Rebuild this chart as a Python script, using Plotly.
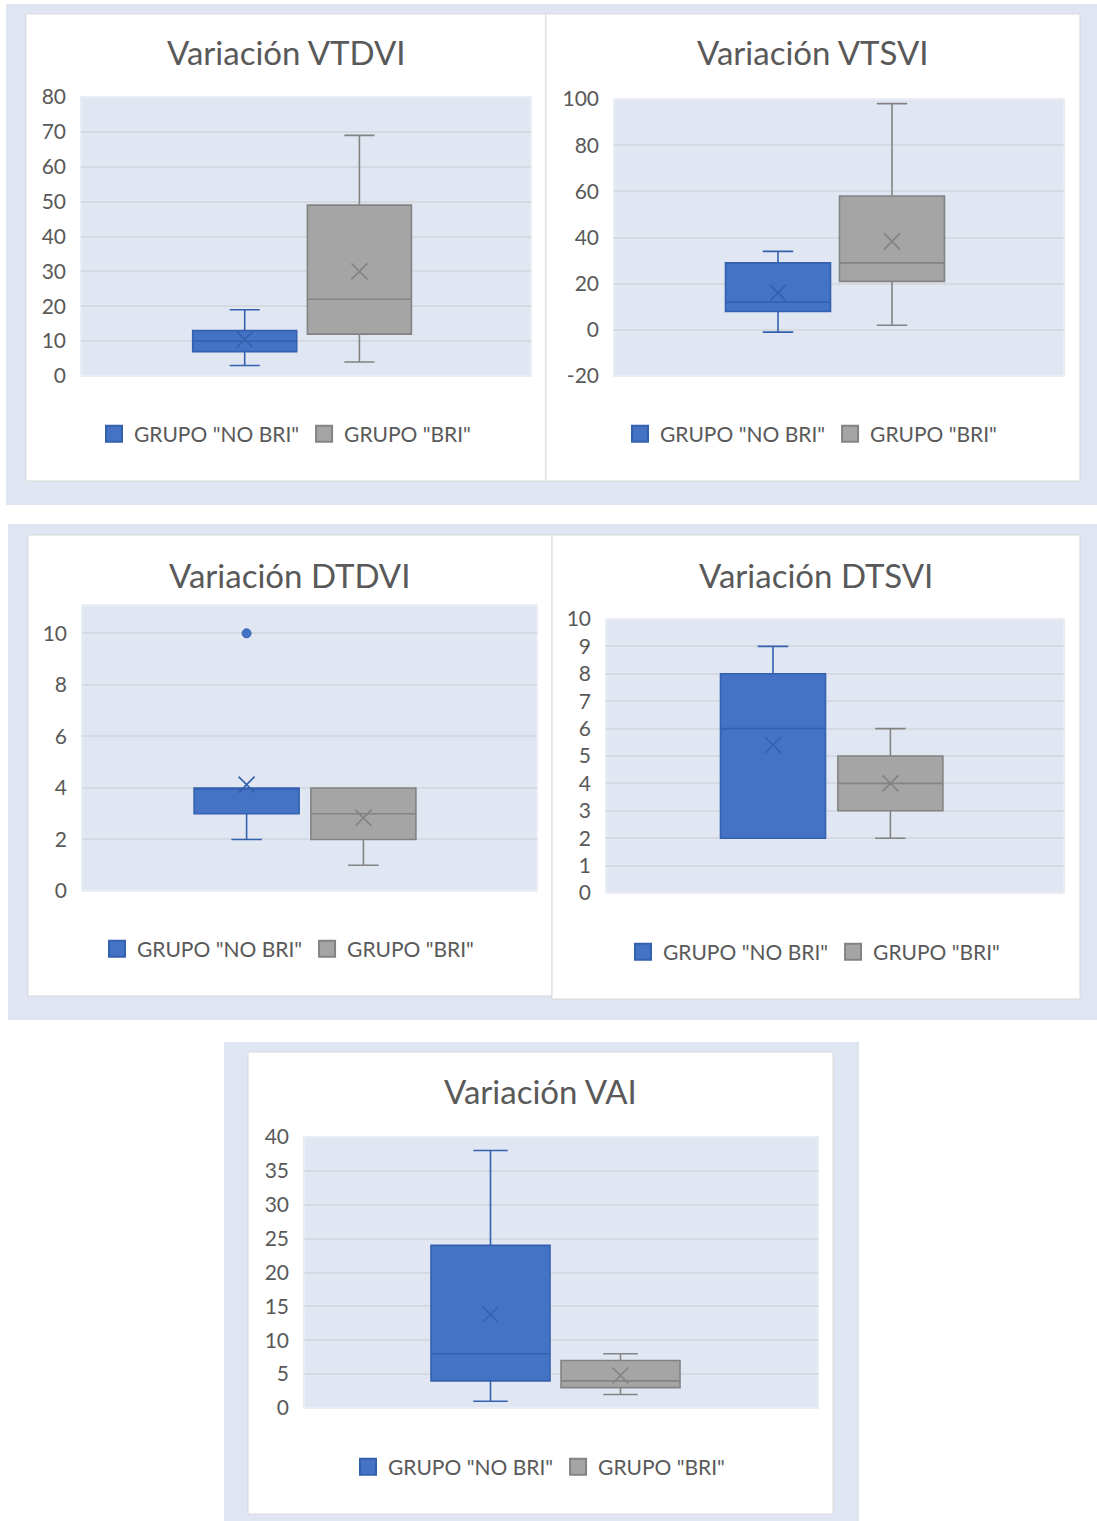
import plotly.graph_objects as go

W, H = 1097, 1521

# ---- data -------------------------------------------------------------
titles = ["Variación VTDVI", "Variación VTSVI", "Variación DTDVI",
          "Variación DTSVI", "Variación VAI"]
groups = ['GRUPO "NO BRI"', 'GRUPO "BRI"']

# group "NO BRI": whisker ends, quartiles, median, mean (one entry per chart)
lower_no = [3, -1, 2, 2, 1]
q1_no = [7, 8, 3, 2, 4]
median_no = [10, 12, 4, 6, 8]
q3_no = [13, 29, 4, 8, 24]
upper_no = [19, 34, 4, 9, 38]
mean_no = [10.5, 16, 4.13, 5.4, 13.8]

# group "BRI"
lower_bri = [4, 2, 1, 2, 2]
q1_bri = [12, 21, 2, 3, 3]
median_bri = [22, 29, 3, 4, 4]
q3_bri = [49, 58, 4, 5, 7]
upper_bri = [69, 98, 4, 6, 8]
mean_bri = [30, 38.3, 2.84, 4, 4.8]

# outlying points of group "NO BRI" per chart
outliers_no = [[], [], [10], [], []]

# value axes: ranges and tick values (labels use a plain hyphen for negatives)
y_ranges = [[0, 80], [-20, 100], [0, 11.1], [0, 10], [0, 40]]
y_ticks = [
    [0, 10, 20, 30, 40, 50, 60, 70, 80],
    [-20, 0, 20, 40, 60, 80, 100],
    [0, 2, 4, 6, 8, 10],
    [0, 1, 2, 3, 4, 5, 6, 7, 8, 9, 10],
    [0, 5, 10, 15, 20, 25, 30, 35, 40],
]
y_ticktext = [[str(v) for v in ticks] for ticks in y_ticks]

# ---- layout (pixel geometry of each chart card) ----------------------
# plot area: x0, x1, ytop, ybottom ; box centres ; box width ; title/legend anchors
cards = [
    dict(pa=(81, 531, 97, 376), c=(244.7, 359.4), bw=104, title=(286, 52), legend=(285, 434)),
    dict(pa=(614, 1064, 99, 376), c=(778, 892), bw=105, title=(813, 52), legend=(811, 434)),
    dict(pa=(82, 537, 605, 891), c=(246.6, 363.4), bw=105, title=(289, 575), legend=(288, 949)),
    dict(pa=(606, 1064, 619, 893), c=(773, 890.4), bw=105, title=(816, 575), legend=(814, 952)),
    dict(pa=(304, 818, 1137, 1408), c=(490.5, 620.5), bw=119, title=(540, 1091), legend=(539, 1467)),
]
bands = [(6, 1097, 4, 505), (8, 1097, 524, 1020), (224, 859, 1042, 1521)]
panels = [(26, 546, 14, 481), (546, 1080, 14, 481), (28, 552, 535, 996),
          (552, 1080, 535, 999), (248, 833, 1052, 1514)]

BLUE_FILL, BLUE_LINE = "#4472C4", "#3461AE"
GRAY_FILL, GRAY_LINE = "#A5A5A5", "#838383"
TEXT = "#595959"
FONT = "Lato"
BAND = "#DFE6F2"
PLOT_BG = "#E1E7F2"
GRID = "#D5D9E0"

fig = go.Figure()
shapes = []
annotations = []
layout_axes = {}

for x0, x1, y0, y1 in bands:
    shapes.append(dict(type="rect", xref="paper", yref="paper", layer="below",
                       x0=x0 / W, x1=x1 / W, y0=1 - y1 / H, y1=1 - y0 / H,
                       fillcolor=BAND, line=dict(width=0)))
for x0, x1, y0, y1 in panels:
    shapes.append(dict(type="rect", xref="paper", yref="paper", layer="below",
                       x0=x0 / W, x1=x1 / W, y0=1 - y1 / H, y1=1 - y0 / H,
                       fillcolor="white", line=dict(color="#D9D9D9", width=1)))

series = [
    (groups[0], BLUE_FILL, BLUE_LINE, lower_no, q1_no, median_no, q3_no, upper_no, mean_no),
    (groups[1], GRAY_FILL, GRAY_LINE, lower_bri, q1_bri, median_bri, q3_bri, upper_bri, mean_bri),
]

for i, card in enumerate(cards):
    n = "" if i == 0 else str(i + 1)
    xa, ya = "x" + n, "y" + n
    lg = "legend" + n
    px0, px1, pyt, pyb = card["pa"]
    c1, c2 = card["c"]
    unit = c2 - c1
    mid = (c1 + c2) / 2
    xr = [(px0 - mid) / unit, (px1 - mid) / unit]
    positions = [-0.5, 0.5]
    bw = card["bw"] / unit

    layout_axes["xaxis" + n] = dict(domain=[px0 / W, px1 / W], range=xr, anchor=ya,
                                    visible=False, fixedrange=True, automargin=False)
    layout_axes["yaxis" + n] = dict(domain=[1 - pyb / H, 1 - pyt / H], range=y_ranges[i],
                                    tickmode="array", tickvals=y_ticks[i],
                                    ticktext=y_ticktext[i], anchor=xa,
                                    showgrid=True, gridcolor=GRID, gridwidth=1.5,
                                    zeroline=False, showline=False, ticks="",
                                    ticklabelstandoff=14, automargin=False,
                                    tickfont=dict(family=FONT, size=21, color=TEXT),
                                    fixedrange=True)

    # plot-area background
    shapes.append(dict(type="rect", xref=xa + " domain", yref=ya + " domain", layer="below",
                       x0=0, x1=1, y0=0, y1=1, fillcolor=PLOT_BG,
                       line=dict(color="#E9EDF5", width=2)))

    for k, (name, fill, line, lo, q1, med, q3, hi, mn) in enumerate(series):
        pos = positions[k]
        fig.add_trace(go.Box(
            x=[pos], q1=[q1[i]], median=[med[i]], q3=[q3[i]],
            lowerfence=[lo[i]], upperfence=[hi[i]],
            width=bw, whiskerwidth=0.29, fillcolor=fill,
            line=dict(color=line, width=1.6), boxpoints=False,
            showlegend=False, xaxis=xa, yaxis=ya, hoverinfo="skip"))
        fig.add_trace(go.Scatter(
            x=[pos], y=[mn[i]], mode="markers",
            marker=dict(symbol="x-thin-open", size=16, color=line,
                        line=dict(color=line, width=1.6)),
            showlegend=False, xaxis=xa, yaxis=ya, hoverinfo="skip"))
        # legend swatch
        fig.add_trace(go.Scatter(
            x=[None], y=[None], mode="markers", name=name,
            marker=dict(symbol="square", size=20, color=fill,
                        line=dict(color=line, width=2)),
            legend=lg, xaxis=xa, yaxis=ya))

    if outliers_no[i]:
        fig.add_trace(go.Scatter(
            x=[positions[0]] * len(outliers_no[i]), y=outliers_no[i], mode="markers",
            marker=dict(symbol="circle", size=9, color=BLUE_FILL,
                        line=dict(color=BLUE_LINE, width=1)),
            showlegend=False, xaxis=xa, yaxis=ya, hoverinfo="skip"))

    tx, ty = card["title"]
    annotations.append(dict(text=titles[i], xref="paper", yref="paper",
                            x=tx / W, y=1 - ty / H, xanchor="center", yanchor="middle",
                            showarrow=False, font=dict(family=FONT, size=33, color=TEXT)))
    lx, ly = card["legend"]
    layout_axes[lg] = dict(orientation="h", x=lx / W, y=1 - ly / H,
                           xanchor="center", yanchor="middle",
                           bgcolor="rgba(0,0,0,0)",
                           font=dict(family=FONT, size=21, color=TEXT))

fig.update_layout(
    width=W, height=H, margin=dict(l=0, r=0, t=0, b=0, autoexpand=False),
    paper_bgcolor="white", plot_bgcolor="rgba(0,0,0,0)",
    shapes=shapes, annotations=annotations, **layout_axes,
)

fig.write_html("out.html")
